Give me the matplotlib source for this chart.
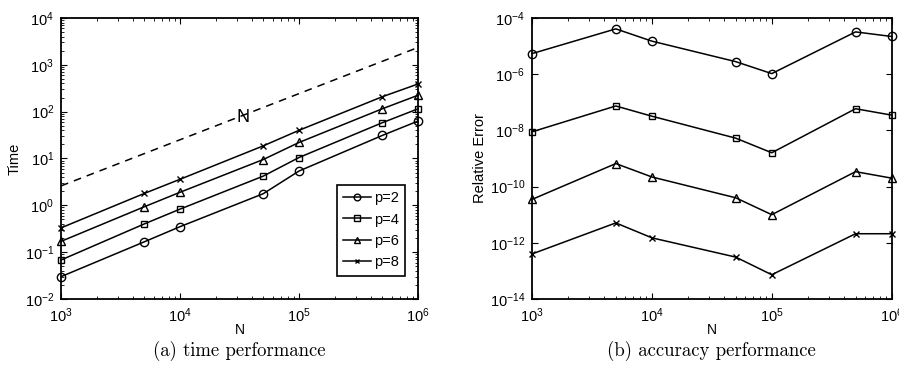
import matplotlib.pyplot as plt
import numpy as np
from matplotlib.ticker import LogLocator, NullLocator, NullFormatter

N = [1e3, 5e3, 1e4, 5e4, 1e5, 5e5, 1e6]

# (a) time performance
time_p2 = [0.030, 0.166, 0.35, 1.77, 5.4, 31, 63]
time_p4 = [0.068, 0.40, 0.83, 4.2, 10.5, 58, 115]
time_p6 = [0.17, 0.93, 1.9, 9.5, 22, 115, 224]
time_p8 = [0.33, 1.79, 3.6, 18.6, 40, 208, 390]
ref_N = [1e3, 1e6]
ref_time = [2.6, 2350]

# (b) accuracy performance
err_p2 = [5.4e-6, 4.1e-5, 1.5e-5, 2.8e-6, 1.05e-6, 3.2e-5, 2.2e-5]
err_p4 = [8.9e-9, 7.4e-8, 3.2e-8, 5.3e-9, 1.6e-9, 5.9e-8, 3.5e-8]
err_p6 = [3.5e-11, 6.6e-10, 2.2e-10, 4.0e-11, 1.0e-11, 3.4e-10, 2.0e-10]
err_p8 = [4.0e-13, 5.1e-12, 1.5e-12, 3.1e-13, 7.3e-14, 2.1e-12, 2.1e-12]

labels = ["p=2", "p=4", "p=6", "p=8"]
markers = ["o", "s", "^", "x"]
msizes = [6, 5, 6, 4]

plt.rcParams["font.family"] = ["Liberation Sans", "DejaVu Sans"]
plt.rcParams["axes.linewidth"] = 1.3

fig = plt.figure(figsize=(8.99, 3.75), dpi=100)
ax1 = fig.add_axes([0.0679, 0.2027, 0.3971, 0.7493])
ax2 = fig.add_axes([0.5918, 0.2027, 0.4, 0.7493])


def style(ax):
    ax.set_xscale("log")
    ax.set_yscale("log")
    ax.tick_params(which="both", direction="in", top=True, right=True,
                   labelsize=10.5, pad=5)
    ax.tick_params(which="major", length=4, width=0.8)
    ax.tick_params(which="minor", length=2, width=0.6)
    ax.xaxis.set_major_locator(LogLocator(base=10, numticks=10))
    ax.xaxis.set_minor_locator(LogLocator(base=10, subs=np.arange(2, 10), numticks=20))
    ax.xaxis.set_minor_formatter(NullFormatter())
    ax.set_xlim(1e3, 1e6)
    ax.set_xlabel("N", fontsize=10, labelpad=-1)


style(ax1)
for ys, lab, m, ms in zip([time_p2, time_p4, time_p6, time_p8], labels, markers, msizes):
    ax1.plot(N, ys, color="black", lw=1.1, marker=m, ms=ms, mfc="none",
             mec="black", mew=1.0, label=lab, clip_on=False)
ax1.plot(ref_N, ref_time, color="black", lw=1.1, ls=(0, (5, 4)))
ax1.text(3.4e4, 75, "N", fontsize=13, ha="center", va="center")
ax1.set_ylim(1e-2, 1e4)
ax1.yaxis.set_major_locator(LogLocator(base=10, numticks=10))
ax1.yaxis.set_minor_locator(LogLocator(base=10, subs=np.arange(2, 10), numticks=20))
ax1.yaxis.set_minor_formatter(NullFormatter())
ax1.set_ylabel("Time", fontsize=10.5, labelpad=2)
leg = ax1.legend(loc="lower right", bbox_to_anchor=(0.985, 0.057), fontsize=10.5,
                 frameon=True, fancybox=False, edgecolor="black", framealpha=1,
                 handlelength=1.9, handletextpad=0.2, labelspacing=0.5,
                 borderpad=0.45, markerscale=0.8)
leg.get_frame().set_linewidth(1.2)

style(ax2)
for ys, lab, m, ms in zip([err_p2, err_p4, err_p6, err_p8], labels, markers, msizes):
    ax2.plot(N, ys, color="black", lw=1.1, marker=m, ms=ms, mfc="none",
             mec="black", mew=1.0, label=lab, clip_on=False)
ax2.set_ylim(1e-14, 1e-4)
ax2.set_yticks([1e-14, 1e-12, 1e-10, 1e-8, 1e-6, 1e-4])
ax2.yaxis.set_minor_locator(NullLocator())
ax2.set_ylabel("Relative Error", fontsize=10.5, labelpad=2)

fig.text(0.2665, 0.05, "(a) time performance", fontsize=13.5, ha="center",
         family=["cmr10", "DejaVu Serif"])
fig.text(0.7917, 0.05, "(b) accuracy performance", fontsize=13.5, ha="center",
         family=["cmr10", "DejaVu Serif"])

fig.savefig("out.png", dpi=100)
